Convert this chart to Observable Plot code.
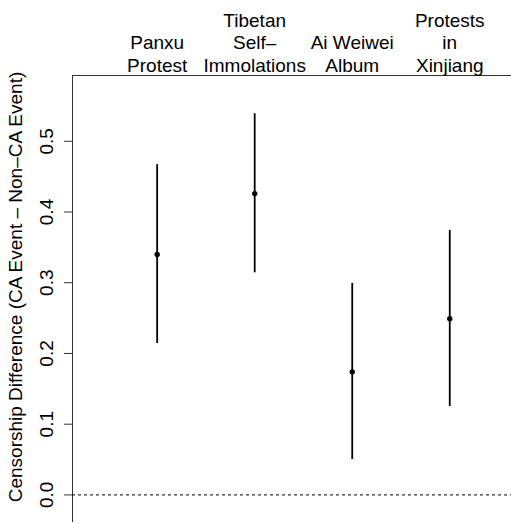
<!DOCTYPE html>
<html><head><meta charset="utf-8">
<script src="https://cdn.jsdelivr.net/npm/d3@7"></script>
<script src="https://cdn.jsdelivr.net/npm/@observablehq/plot@0.6"></script>
<style>body{margin:0;background:#fff}</style>
</head><body><div id="chart"></div>
<script>
const events = ["Panxu\nProtest", "Tibetan\nSelf–\nImmolations", "Ai Weiwei\nAlbum", "Protests\nin\nXinjiang"];
const position = [1, 2, 3, 4];
const estimate = [0.340, 0.426, 0.174, 0.249];
const lower = [0.214, 0.314, 0.050, 0.125];
const upper = [0.467, 0.539, 0.299, 0.374];
const yTicks = [0, 0.1, 0.2, 0.3, 0.4, 0.5];
const yDomain = [-0.039, 0.593];
const xDomain = [0.132, 4.633];
const yLabel = "Censorship Difference (CA Event – Non–CA Event)";

const data = events.map((e, i) => ({event: e, pos: position[i], est: estimate[i], lo: lower[i], hi: upper[i]}));
const font = "'Liberation Sans', Arial, Helvetica, sans-serif";

const chart = Plot.plot({
  width: 511, height: 524,
  marginLeft: 72, marginRight: 0, marginTop: 75, marginBottom: 2,
  x: {domain: xDomain, axis: null},
  y: {domain: yDomain, axis: null},
  style: {fontFamily: font, fontSize: "19px", color: "#000", background: "#fff"},
  marks: [
    Plot.axisY(yTicks, {tickSize: 8, tickRotate: -90, tickFormat: d3.format(".1f"), tickPadding: 12, label: null, fontSize: 19, stroke: "#333"}),
    Plot.ruleX([xDomain[0]], {stroke: "#333", strokeWidth: 1}),
    Plot.ruleY([yDomain[1]], {stroke: "#333", strokeWidth: 1}),
    Plot.ruleY([0], {strokeDasharray: "3,3", stroke: "#000", strokeWidth: 1}),
    Plot.text([yLabel], {frameAnchor: "left", textAnchor: "middle", rotate: -90, dx: -57, dy: -12, fontSize: 19, lineAnchor: "middle"}),
    Plot.ruleX(data, {x: "pos", y1: "lo", y2: "hi", stroke: "#000", strokeWidth: 1.8}),
    Plot.dot(data, {x: "pos", y: "est", r: 2.7, fill: "#000"}),
    Plot.text(data, {x: "pos", text: "event", frameAnchor: "top", lineAnchor: "bottom", dy: -4, lineHeight: 1.18, fontSize: 19})
  ]
});
document.getElementById("chart").appendChild(chart);
</script>
</body></html>
